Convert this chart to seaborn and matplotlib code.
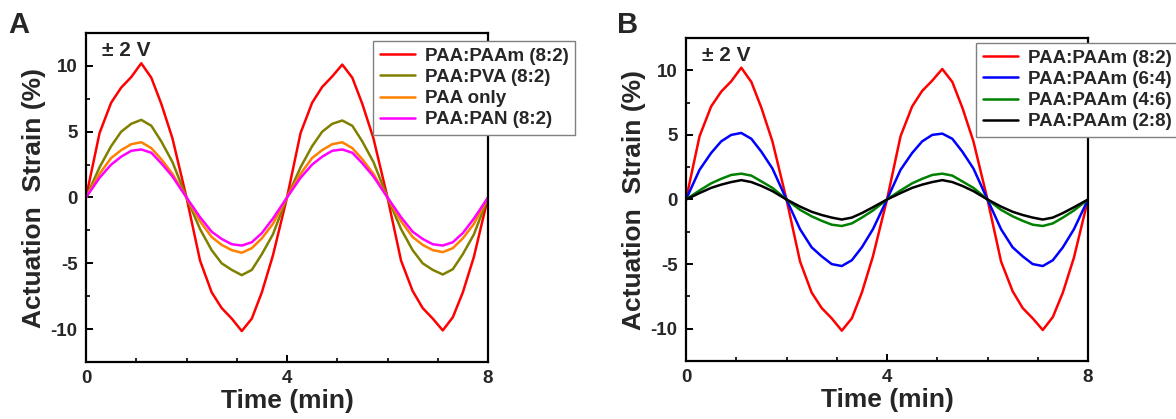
import matplotlib
matplotlib.use("Agg")
import matplotlib.pyplot as plt
from matplotlib.ticker import MultipleLocator
import pandas as pd
import seaborn as sns

# ---------------- data ----------------
time_min = [0.0, 0.27, 0.5, 0.7, 0.9, 1.1, 1.3, 1.5, 1.72,
            2.0, 2.27, 2.5, 2.7, 2.9, 3.1, 3.3, 3.5, 3.72,
            4.0, 4.27, 4.5, 4.7, 4.9, 5.1, 5.3, 5.5, 5.72,
            6.0, 6.27, 6.5, 6.7, 6.9, 7.1, 7.3, 7.5, 7.72,
            8.0]

labels_a = ["PAA:PAAm (8:2)", "PAA:PVA (8:2)", "PAA only", "PAA:PAN (8:2)"]
labels_b = ["PAA:PAAm (8:2)", "PAA:PAAm (6:4)", "PAA:PAAm (4:6)", "PAA:PAAm (2:8)"]

paa_paam_82 = [0, 4.9, 7.2, 8.35, 9.15, 10.2, 9.1, 7.1, 4.5,
               0, -4.8, -7.2, -8.4, -9.2, -10.15, -9.2, -7.2, -4.4,
               0, 4.9, 7.2, 8.4, 9.2, 10.1, 9.1, 7.1, 4.5,
               0, -4.8, -7.1, -8.4, -9.2, -10.1, -9.1, -7.2, -4.5,
               0]
paa_pva_82 = [0, 2.3, 3.9, 5.0, 5.6, 5.9, 5.45, 4.25, 2.7,
              0, -2.4, -4.0, -5.0, -5.5, -5.9, -5.5, -4.3, -2.8,
              0, 2.3, 3.9, 5.0, 5.6, 5.85, 5.45, 4.25, 2.7,
              0, -2.4, -4.0, -5.0, -5.5, -5.85, -5.45, -4.3, -2.8,
              0]
paa_only = [0, 1.8, 3.0, 3.6, 4.05, 4.2, 3.75, 2.9, 1.8,
            0, -1.8, -3.0, -3.6, -4.0, -4.2, -3.85, -3.1, -2.0,
            0, 1.8, 3.0, 3.6, 4.05, 4.2, 3.75, 2.9, 1.8,
            0, -1.8, -3.0, -3.6, -4.0, -4.15, -3.85, -3.1, -2.0,
            0]
paa_pan_82 = [0, 1.5, 2.5, 3.1, 3.55, 3.65, 3.4, 2.6, 1.6,
              0, -1.5, -2.6, -3.15, -3.55, -3.65, -3.4, -2.7, -1.6,
              0, 1.5, 2.5, 3.1, 3.55, 3.65, 3.4, 2.6, 1.6,
              0, -1.5, -2.6, -3.15, -3.55, -3.65, -3.4, -2.7, -1.6,
              0]

b_paam_82 = [0, 4.9, 7.2, 8.35, 9.15, 10.2, 9.1, 7.1, 4.5,
             0, -4.8, -7.2, -8.4, -9.2, -10.15, -9.2, -7.2, -4.4,
             0, 4.9, 7.2, 8.4, 9.2, 10.1, 9.1, 7.1, 4.5,
             0, -4.8, -7.1, -8.4, -9.2, -10.1, -9.1, -7.2, -4.5,
             0]
b_paam_64 = [0, 2.3, 3.6, 4.5, 5.0, 5.15, 4.7, 3.7, 2.4,
             0, -2.3, -3.7, -4.4, -5.0, -5.15, -4.7, -3.7, -2.3,
             0, 2.3, 3.6, 4.5, 5.0, 5.1, 4.7, 3.7, 2.4,
             0, -2.3, -3.7, -4.4, -5.0, -5.15, -4.7, -3.7, -2.3,
             0]
b_paam_46 = [0, 0.7, 1.25, 1.6, 1.9, 2.0, 1.85, 1.4, 0.9,
             0, -0.8, -1.3, -1.65, -1.95, -2.05, -1.85, -1.4, -0.85,
             0, 0.7, 1.25, 1.6, 1.9, 2.0, 1.85, 1.4, 0.9,
             0, -0.8, -1.3, -1.65, -1.95, -2.05, -1.85, -1.4, -0.85,
             0]
b_paam_28 = [0, 0.5, 0.9, 1.15, 1.35, 1.5, 1.35, 1.05, 0.65,
             0, -0.55, -0.95, -1.2, -1.4, -1.55, -1.4, -1.05, -0.6,
             0, 0.5, 0.9, 1.15, 1.35, 1.5, 1.35, 1.05, 0.65,
             0, -0.55, -0.95, -1.2, -1.4, -1.55, -1.4, -1.05, -0.6,
             0]

colors_a = ["#ff0000", "#808000", "#ff8000", "#ff00ff"]
colors_b = ["#ff0000", "#0000ff", "#008000", "#000000"]

x_ticks = [0, 4, 8]
y_ticks = [-10, -5, 0, 5, 10]
x_tick_labels = ["0", "4", "8"]
y_tick_labels = ["-10", "-5", "0", "5", "10"]


def long_df(labels, series):
    rows = []
    for lab, vals in zip(labels, series):
        for t, v in zip(time_min, vals):
            rows.append({"Time": t, "Strain": v, "Sample": lab})
    return pd.DataFrame(rows)


df_a = long_df(labels_a, [paa_paam_82, paa_pva_82, paa_only, paa_pan_82])
df_b = long_df(labels_b, [b_paam_82, b_paam_64, b_paam_46, b_paam_28])

# ---------------- style ----------------
sns.set_theme(style="ticks")
plt.rcParams["font.family"] = ["Liberation Sans", "DejaVu Sans"]
plt.rcParams["font.weight"] = "bold"
plt.rcParams["axes.labelweight"] = "bold"
plt.rcParams["axes.unicode_minus"] = False

fig = plt.figure(figsize=(11.76, 4.19), dpi=100)
W, H = 1176, 419
ax_a = fig.add_axes([86 / W, 1 - 362 / H, (488 - 86) / W, (362 - 33) / H])
ax_b = fig.add_axes([686 / W, 1 - 361 / H, (1088 - 686) / W, (361 - 38) / H])


def style_axes(ax, df, labels, colors, legend_xy, letter, letter_x):
    sns.lineplot(data=df, x="Time", y="Strain", hue="Sample", hue_order=labels,
                 palette=colors, estimator=None, sort=False, linewidth=1.8,
                 ax=ax, legend=True)
    ax.set_xlim(0, 8)
    ax.set_ylim(-12.5, 12.5)
    ax.set_xticks(x_ticks)
    ax.set_xticklabels(x_tick_labels, fontsize=13.5, fontweight="bold")
    ax.set_yticks(y_ticks)
    ax.set_yticklabels(y_tick_labels, fontsize=13.5, fontweight="bold")
    ax.xaxis.set_minor_locator(MultipleLocator(1))
    ax.yaxis.set_minor_locator(MultipleLocator(2.5))
    ax.tick_params(which="major", direction="in", length=5, width=1.4,
                   top=False, right=False, pad=6, color="black")
    ax.tick_params(which="minor", direction="in", length=3, width=1.2,
                   top=False, right=False, color="black")
    for s in ax.spines.values():
        s.set_visible(True)
        s.set_linewidth(1.6)
        s.set_color("black")
    ax.set_xlabel("Time (min)", fontsize=19, fontweight="bold", labelpad=1)
    ax.set_ylabel("Actuation  Strain (%)", fontsize=19, fontweight="bold", labelpad=3)
    ax.text(0.04, 0.975, "± 2 V", transform=ax.transAxes, fontsize=15,
            fontweight="bold", va="top", ha="left")
    handles, labs = ax.get_legend_handles_labels()
    leg = ax.legend(handles, labs, loc="upper left",
                    bbox_to_anchor=legend_xy, bbox_transform=fig.transFigure,
                    borderaxespad=0, frameon=True, fancybox=False,
                    prop={"size": 13.5, "weight": "bold"},
                    handlelength=1.9, handletextpad=0.5, labelspacing=0.22,
                    borderpad=0.35)
    leg.get_frame().set_edgecolor("#808080")
    leg.get_frame().set_linewidth(1.0)
    leg.get_frame().set_alpha(1.0)
    fig.text(letter_x, 1 - 25 / H, letter, fontsize=21, fontweight="bold",
             va="center", ha="left")


style_axes(ax_a, df_a, labels_a, colors_a, (373 / W, 1 - 41 / H), "A", 8 / W)
style_axes(ax_b, df_b, labels_b, colors_b, (976 / W, 1 - 43 / H), "B", 617 / W)

fig.savefig("out.png", dpi=100)
